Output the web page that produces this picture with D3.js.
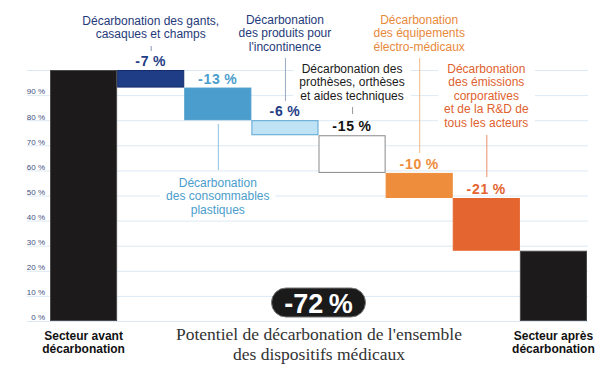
<!DOCTYPE html>
<html><head><meta charset="utf-8">
<script src="https://cdn.jsdelivr.net/npm/d3@7"></script>
<style>
html,body{margin:0;padding:0;background:#fff;}
svg{display:block;}
</style></head>
<body>
<svg id="chart" width="612" height="368"></svg>
<script>
// ---- data ----
const categories = ["Secteur avant décarbonation","gants","consommables","incontinence","prothèses","électro-médicaux","émissions","Secteur après décarbonation"];
const startValue = 100;
const changes = [-7, -13, -6, -15, -10, -21];
const changeLabels = ["-7\u2009%","-13\u2009%","-6\u2009%","-15\u2009%","-10\u2009%","-21\u2009%"];
const tickValues = [0,10,20,30,40,50,60,70,80,90];
const gridValues = [0,10,20,30,40,50,60,70,80,90,100];
const totalLabel = "-72\u2009%";
const titleLines = ["Potentiel de décarbonation de l'ensemble","des dispositifs médicaux"];
const endLabels = [["Secteur avant","décarbonation"],["Secteur après","décarbonation"]];

// ---- styles ----
const fills = ["#1c1a1b","#1f3d86","#4a9dcc","#bfe3f5","#ffffff","#ee8d3b","#e4652f","#1c1a1b"];
const strokes = ["#4a4a4a","#132d6b","#4a9dcc","#5aa6d3","#8a8a8a","#ee8d3b","#e4652f","#4a4a4a"];
const labelColors = ["#1f3d86","#4a9dcc","#1f3d86","#111111","#ee8d3b","#e4652f"];

const svg = d3.select("#chart");
const x = d3.scaleBand().domain(categories).range([50, 587]).padding(0);
const y = d3.scaleLinear().domain([0, 100]).range([321, 70]);

// waterfall segments
const segs = [];
segs.push({cat: categories[0], y0: 0, y1: startValue});
let cur = startValue;
changes.forEach((c, i) => {
  segs.push({cat: categories[i+1], y0: cur + c, y1: cur, label: changeLabels[i], i});
  cur += c;
});
segs.push({cat: categories[7], y0: 0, y1: cur});

// gridlines
svg.append("g").selectAll("line").data(gridValues).join("line")
  .attr("x1", 27).attr("x2", 588)
  .attr("y1", d => y(d) + 0.5).attr("y2", d => y(d) + 0.5)
  .attr("stroke", "#dce9f4").attr("stroke-width", 1);

// axis labels
const axis = d3.axisLeft(y).tickValues(tickValues).tickFormat(d => d + " %").tickSize(0).tickPadding(0);
const ag = svg.append("g").attr("transform", "translate(45,0)").call(axis);
ag.select(".domain").remove();
ag.selectAll("text").attr("dy", "-0.15em").attr("font-family", "Liberation Sans, Arial, sans-serif")
  .attr("font-size", 8).attr("fill", "#3e4f80");

// bars
svg.append("g").selectAll("rect").data(segs).join("rect")
  .attr("x", d => x(d.cat) + 0.5)
  .attr("y", d => y(d.y1) + 0.5)
  .attr("width", x.bandwidth() - 1)
  .attr("height", d => y(d.y0) - y(d.y1) - 1)
  .attr("fill", (d, i) => fills[i])
  .attr("stroke", (d, i) => strokes[i])
  .attr("stroke-width", 1);

// value labels
svg.append("g").selectAll("text").data(segs.filter(d => d.label)).join("text")
  .attr("x", d => x(d.cat) + x.bandwidth() / 2)
  .attr("y", d => y(d.y1) - 4)
  .attr("text-anchor", "middle")
  .attr("font-family", "Liberation Sans, Arial, sans-serif")
  .attr("font-weight", "bold").attr("font-size", 14).attr("letter-spacing", 0.8)
  .attr("fill", d => labelColors[d.i])
  .text(d => d.label);

// annotations
const annotations = [
  {cat: 1, lines: ["Décarbonation des gants,","casaques et champs"], top: 25, color: "#1f3a7a", line: [46, 51], lineColor: "#8a95b5", bg: false},
  {cat: 3, lines: ["Décarbonation","des produits pour","l'incontinence"], top: 24, color: "#1f3a7a", line: [58, 101], lineColor: "#9aa6c4", bg: false},
  {cat: 4, lines: ["Décarbonation des","prothèses, orthèses","et aides techniques"], top: 73, color: "#1a1a1a", line: [107, 114], lineColor: "#999", bg: true},
  {cat: 5, lines: ["Décarbonation","des équipements","électro-médicaux"], top: 24, color: "#e8893a", line: [58, 153], lineColor: "#f2b98a", bg: false},
  {cat: 6, lines: ["Décarbonation","des émissions","corporatives","et de la R&D de","tous les acteurs"], top: 73, color: "#e0622e", line: [135, 177], lineColor: "#e8906a", bg: true},
  {cat: 2, lines: ["Décarbonation","des consommables","plastiques"], top: 187, color: "#4a9dcc", line: [124, 170], lineColor: "#8cc3e2", bg: true}
];
const lh = 13.4;
const ann = svg.append("g");
annotations.forEach(a => {
  const cx = x(categories[a.cat]) + x.bandwidth() / 2;
  ann.append("line").attr("x1", cx + 0.5).attr("x2", cx + 0.5)
    .attr("y1", a.line[0]).attr("y2", a.line[1])
    .attr("stroke", a.lineColor).attr("stroke-width", 1);
  const g = ann.append("g");
  const t = g.append("text").attr("font-family", "Liberation Sans, Arial, sans-serif")
    .attr("font-size", 12).attr("fill", a.color).attr("text-anchor", "middle");
  a.lines.forEach((l, k) => t.append("tspan").attr("x", cx).attr("y", a.top + k * lh).text(l));
  if (a.bg) {
    const bb = t.node().getBBox();
    g.insert("rect", "text").attr("x", bb.x - 6).attr("y", bb.y - 1)
      .attr("width", bb.width + 12).attr("height", bb.height + 2).attr("fill", "#fff");
  }
});

// end labels
[0, 7].forEach((ci, k) => {
  const cx = x(categories[ci]) + x.bandwidth() / 2;
  const t = svg.append("text").attr("font-family", "Liberation Sans, Arial, sans-serif")
    .attr("font-size", 12).attr("font-weight", "bold").attr("fill", "#111").attr("text-anchor", "middle");
  endLabels[k].forEach((l, j) => t.append("tspan").attr("x", cx).attr("y", 340 + j * 12.5).text(l));
});

// total badge
const bx = 318.5;
svg.append("rect").attr("x", bx - 47).attr("y", 288).attr("width", 94).attr("height", 29)
  .attr("rx", 14.5).attr("fill", "#1a1a1a").attr("stroke", "#777").attr("stroke-width", 1);
svg.append("text").attr("x", bx).attr("y", 313).attr("text-anchor", "middle")
  .attr("font-family", "Liberation Sans, Arial, sans-serif")
  .attr("font-weight", "bold").attr("font-size", 27).attr("fill", "#fff").text(totalLabel);

// title
const tt = svg.append("text").attr("font-family", "Liberation Serif, Times New Roman, serif")
  .attr("font-size", 17.5).attr("fill", "#333").attr("text-anchor", "middle");
titleLines.forEach((l, j) => tt.append("tspan").attr("x", 319).attr("y", 340 + j * 20).text(l));
</script>
</body></html>
